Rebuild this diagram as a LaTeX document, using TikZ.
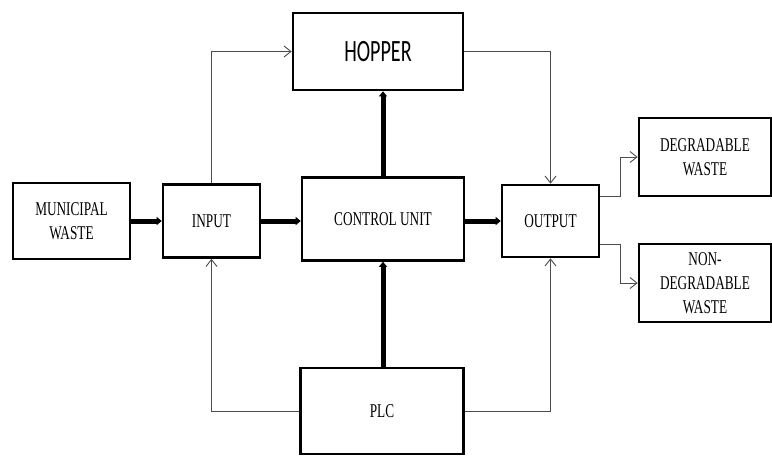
\documentclass[tikz,border=0pt]{standalone}
\usepackage{fontspec}
\setmainfont[FakeStretch=0.68]{Liberation Serif}
\newfontfamily\hopperfont[FakeStretch=0.65]{Carlito}
\usetikzlibrary{arrows.meta}

\tikzset{
  block/.style={draw, line width=2.6pt, align=center, inner sep=0pt,
    font=\fontsize{19.5}{24}\selectfont},
  thickarrow/.style={line width=5pt, -{Triangle[length=5pt,width=8pt]}},
  thinarrow/.style={draw=black!70, line width=0.9pt, -{Straight Barb[length=7pt,width=11pt]}}
}

\begin{document}
\begin{tikzpicture}[x=1pt,y=-1pt]
			\useasboundingbox (0,0) rectangle (772,456);
			% Blocks
			\node[block, minimum width=117pt, minimum height=76pt] (municipal) at (71.5,221) {MUNICIPAL\\WASTE};
			\node[block, minimum width=97pt, minimum height=73pt] (input) at (211.5,221) {INPUT};
			\node[block, minimum width=162pt, minimum height=83pt] (control) at (383,219) {CONTROL UNIT};
			\node[block, minimum width=97pt, minimum height=72pt] (output) at (550.5,221) {OUTPUT};
			\node[block, minimum width=170pt, minimum height=77pt, font=\hopperfont\fontsize{31}{36}\selectfont] (hopper) at (378,51.5) {HOPPER};
			\node[block, minimum width=163pt, minimum height=86pt] (plc) at (382,411) {PLC};
			\node[block, minimum width=132pt, minimum height=78pt] (degradable) at (705,157) {DEGRADABLE\\WASTE};
			\node[block, minimum width=132pt, minimum height=78pt] (nondeg) at (705,283) {NON-\\DEGRADABLE\\WASTE};
			% Main flow
			\draw[thickarrow] (municipal.east) -- (input.west);
			\draw[thickarrow] (input.east) -- (input.east -| control.west);
			\draw[thickarrow] (output.west -| control.east) -- (output.west);
			\draw[thickarrow] (control.north) -- (control.north |- hopper.south);
			\draw[thickarrow] (plc.north -| control.south) -- (control.south);
			% Feed lines
			\draw[thinarrow] (input.north) |- (hopper.west);
			\draw[thinarrow] (hopper.east) -| (output.north);
			\draw[thinarrow] (plc.west) -| (input.south);
			\draw[thinarrow] (plc.east) -| (output.south);
			% Sorting
			\draw[thinarrow] ([yshift=25pt]output.east) -- ++(20,0) |- (degradable.west);
			\draw[thinarrow] ([yshift=-23pt]output.east) -- ++(20,0) |- (nondeg.west);
		\end{tikzpicture}
\end{document}
